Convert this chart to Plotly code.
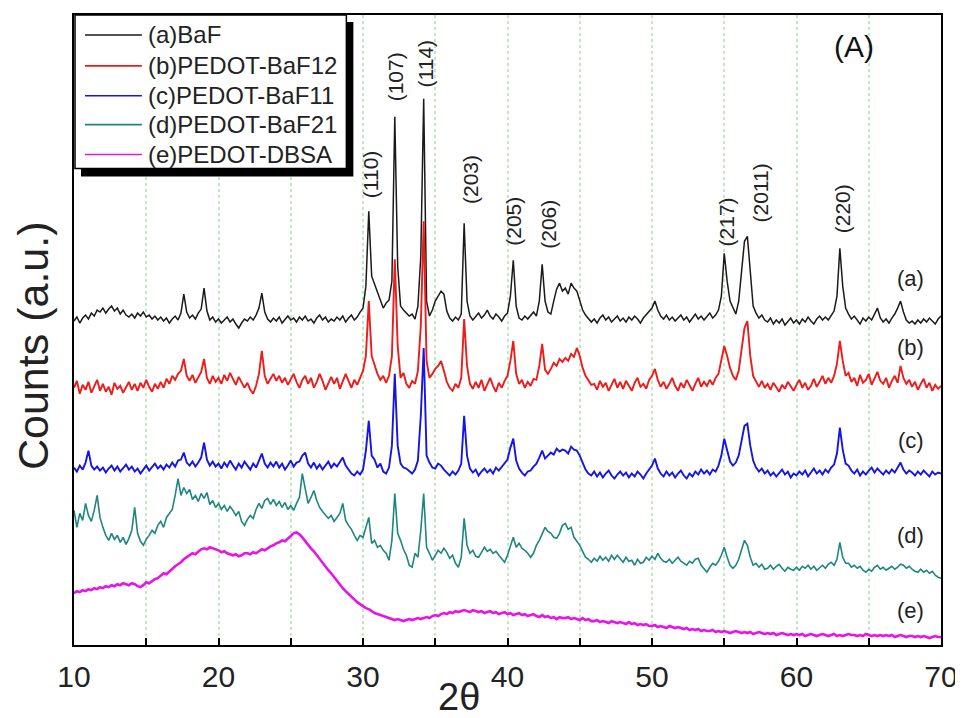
import plotly.graph_objects as go

# 2-theta sampling (degrees)
two_theta = [round(10 + 0.2 * i, 1) for i in range(301)]

series_names = ["(a)BaF", "(b)PEDOT-BaF12", "(c)PEDOT-BaF11", "(d)PEDOT-BaF21", "(e)PEDOT-DBSA"]
series_colors = ["#1a1a1a", "#ee1b1b", "#1414e6", "#1f8580", "#e614e6"]
series_widths = [1.5, 1.9, 1.9, 1.6, 2.6]

counts_a = [
    325, 329, 323, 328, 331, 327, 333, 330, 336, 334,
    338, 333, 337, 340, 335, 338, 332, 336, 331, 329,
    332, 328, 333, 330, 334, 329, 331, 327, 330, 326,
    329, 325, 328, 323, 327, 330, 326, 333, 352, 334,
    328, 331, 327, 333, 337, 358, 335, 326, 329, 324,
    327, 323, 326, 329, 324, 327, 322, 318, 323, 327,
    325, 329, 326, 331, 338, 353, 334, 327, 324, 328,
    325, 329, 323, 327, 330, 326, 328, 324, 329, 326,
    330, 325, 327, 323, 328, 331, 326, 329, 324, 327,
    325, 329, 326, 330, 324, 328, 331, 326, 329, 334,
    338, 360, 435, 370, 362, 352, 345, 338, 343, 346,
    365, 530, 380, 340, 336, 333, 330, 332, 327, 340,
    390, 548, 345, 330, 336, 345, 350, 355, 352, 335,
    328, 325, 329, 326, 332, 423, 345, 330, 326, 329,
    333, 328, 331, 336, 330, 327, 332, 329, 325, 330,
    333, 350, 386, 340, 328, 326, 330, 327, 331, 334,
    330, 345, 382, 345, 334, 332, 345, 357, 363, 355,
    358, 352, 363, 358, 355, 345, 336, 331, 328, 324,
    327, 323, 328, 331, 326, 329, 324, 327, 330, 325,
    328, 324, 329, 326, 330, 327, 323, 328, 331, 335,
    338, 345, 336, 330, 327, 331, 326, 329, 325, 328,
    331, 326, 329, 324, 328, 332, 327, 330, 326, 329,
    333, 328, 331, 336, 350, 393, 365, 345, 338, 332,
    345, 375, 405, 410, 370, 340, 333, 328, 331, 326,
    324, 328, 322, 326, 323, 327, 321, 325, 328, 323,
    326, 322, 327, 324, 329, 325, 322, 327, 330, 326,
    329, 326, 331, 335, 350, 398, 360, 338, 332, 327,
    330, 326, 322, 328, 325, 329, 326, 332, 338, 328,
    324, 327, 323, 328, 332, 338, 345, 334, 326, 323,
    325, 322, 326, 323, 327, 324, 328, 325, 322, 327,
    330,
]

counts_b = [
    258, 265, 252, 261, 256, 264, 253, 260, 266, 255,
    262, 254, 259, 251, 263, 257, 260, 253, 258, 264,
    256, 262, 255, 263, 258, 266, 259, 254, 262, 257,
    264, 258, 267, 262, 270, 266, 272, 275, 287, 270,
    265, 271, 263, 269, 274, 287, 268, 262, 270, 264,
    268, 262, 271, 265, 273, 267, 261, 269, 264, 258,
    263, 256, 252, 260, 272, 295, 270, 262, 267, 272,
    265, 270, 263, 268, 261, 266, 272, 264, 258, 266,
    270, 262, 268, 258, 264, 272, 265, 256, 263, 269,
    262, 268, 257, 264, 272, 265, 258, 266, 261, 268,
    275, 290, 345, 290, 280, 272, 266, 270, 263, 270,
    290, 387, 300, 268, 273, 262, 258, 265, 262, 275,
    320, 425, 285, 268, 272, 277, 280, 285, 275, 264,
    258, 255, 262, 258, 268, 327, 280, 262, 257, 264,
    258, 266, 255, 262, 268, 260, 254, 263, 258, 265,
    270, 285, 305, 272, 262, 266, 258, 264, 260, 267,
    266, 280, 302, 276, 272, 277, 283, 280, 287, 284,
    288, 285, 292, 289, 298, 290, 278, 270, 265, 261,
    262, 256, 265, 259, 263, 255, 261, 267, 258, 264,
    257, 265, 260, 255, 263, 268, 259, 262, 257, 266,
    270, 277, 266, 259, 264, 257, 262, 268, 260, 255,
    263, 258, 266, 261, 255, 262, 268, 259, 264, 260,
    266, 261, 268, 272, 285, 300, 290, 278, 270, 266,
    275, 295, 318, 325, 290, 270, 264, 259, 265, 258,
    262, 256, 263, 258, 254, 261, 257, 264, 259, 255,
    261, 266, 258, 263, 256, 260, 267, 259, 264, 270,
    262, 268, 263, 270, 282, 305, 285, 270, 273, 264,
    268, 260, 271, 263, 266, 272, 261, 267, 274, 265,
    262, 268, 258, 265, 270, 263, 280, 268, 262, 266,
    259, 264, 256, 262, 267, 258, 263, 255, 261, 257,
    260,
]

counts_c = [
    178, 174, 180, 176, 183, 195, 180, 176, 179, 175,
    178, 173, 177, 180, 175, 179, 174, 178, 181, 176,
    179, 174, 177, 172, 176, 180, 175, 178, 182, 177,
    180, 176, 181, 178, 183, 179, 185, 186, 193, 183,
    180, 184, 179, 183, 188, 203, 186, 180, 184, 179,
    182, 177, 183, 179, 185, 180, 176, 182, 178, 184,
    180, 176, 182, 178, 185, 192, 182, 178, 183, 179,
    184, 178, 182, 176, 180, 185, 179, 183, 184, 190,
    193, 182, 178, 183, 177, 181, 176, 180, 184, 178,
    182, 179, 183, 188, 180, 176, 172, 170, 174, 171,
    176, 195, 225, 190, 186, 178, 182, 174, 172, 178,
    200, 272, 200, 182, 178, 177, 174, 172, 176, 185,
    230, 298, 190, 183, 178, 177, 182, 180, 176, 173,
    170, 174, 171, 175, 182, 230, 190, 177, 173, 176,
    170, 174, 177, 173, 176, 172, 178, 175, 179, 183,
    186, 198, 207, 185, 177, 173, 170, 174, 175, 179,
    182, 188, 195, 187, 190, 193, 191, 197, 194, 196,
    195, 192, 199, 196, 195, 190, 183, 176, 172, 170,
    174, 169, 173, 168, 172, 175, 170, 167, 171, 174,
    170, 173, 168, 172, 169, 174, 171, 167, 172, 176,
    180, 187, 177, 172, 169, 174, 170, 173, 168, 172,
    175, 170, 167, 172, 169, 174, 171, 176, 172, 175,
    171, 176, 174, 180, 190, 207, 195, 184, 180, 183,
    190, 205, 220, 222, 200, 185, 178, 174, 177, 172,
    175, 170, 173, 169, 172, 176, 171, 174, 168, 172,
    170, 174, 171, 175, 169, 173, 177, 172, 175, 171,
    176, 173, 178, 181, 192, 218, 196, 182, 180, 175,
    172, 176, 170, 174, 171, 175, 178, 173, 177, 174,
    171, 175, 172, 176, 173, 178, 183, 176, 172, 175,
    173, 170, 174, 171, 175, 172, 169, 174, 171, 173,
    172,
]

counts_d = [
    135, 118, 132, 125, 142, 130, 124, 135, 150, 128,
    118, 110, 105, 112, 106, 110, 103, 108, 101, 107,
    115, 138, 112, 104, 100, 106, 110, 115, 112, 120,
    124, 118, 128, 132, 136, 150, 167, 150, 158, 152,
    156, 146, 150, 144, 152, 147, 153, 141, 145, 138,
    142, 136, 140, 134, 139, 135, 130, 134, 124, 120,
    126, 130, 127, 136, 142, 137, 145, 147, 141, 146,
    140, 144, 138, 143, 136, 140, 135, 142, 148, 172,
    155, 142, 148, 155, 145, 138, 134, 130, 127, 130,
    124, 128, 132, 142, 125, 120, 116, 110, 105, 110,
    108, 118, 128, 102, 105, 98, 100, 95, 92, 85,
    105, 152, 112, 105, 96, 90, 80, 78, 92, 88,
    115, 152, 98, 92, 85, 90, 95, 92, 97, 93,
    87, 90, 82, 78, 88, 127, 100, 92, 95, 89,
    88, 93, 98, 94, 96, 92, 94, 90, 87, 83,
    90, 100, 108, 98, 102, 97, 95, 92, 88, 92,
    100, 105, 112, 118, 114, 112, 108, 107, 112, 120,
    122, 116, 118, 108, 104, 100, 94, 88, 86, 83,
    87, 84, 89, 85, 88, 84, 90, 86, 90, 87,
    83, 88, 84, 85, 80, 86, 82, 83, 88, 85,
    89, 86, 92, 87, 84, 83, 86, 82, 85, 88,
    84, 82, 80, 84, 82, 86, 87, 80, 77, 73,
    78, 82, 80, 84, 90, 98, 88, 80, 77, 80,
    86, 95, 105, 100, 88, 80, 82, 78, 81, 76,
    77, 80, 76, 79, 81, 77, 74, 78, 76, 75,
    78, 75, 79, 77, 80, 76, 79, 75, 78, 80,
    77, 81, 83, 80, 86, 103, 88, 82, 82, 78,
    80, 77, 79, 75, 73, 76, 74, 78, 80, 76,
    78, 75, 77, 79, 76, 78, 81, 80, 77, 79,
    76, 74, 73, 76, 73, 75, 72, 74, 70, 68,
    67,
]

counts_e = [
    52, 54, 53, 55, 54, 56, 55, 57, 56, 58,
    57, 59, 58, 60, 59, 61, 60, 62, 61, 60,
    62, 61, 59, 58, 60, 63, 62, 64, 66, 67,
    70, 72, 71, 74, 76, 79, 81, 83, 86, 88,
    90, 92, 91, 94, 96, 97, 96, 98, 97, 96,
    95, 93, 94, 92, 91, 90, 91, 89, 90, 92,
    92, 91, 93, 92, 94, 96, 95, 97, 99, 100,
    102, 103, 105, 104, 107, 110, 112, 113, 111, 108,
    104, 100, 97, 94, 90, 86, 82, 78, 75, 72,
    68, 64, 61, 57, 54, 51, 48, 45, 43, 41,
    39, 37, 36, 34, 32, 31, 30, 29, 28, 27,
    26, 25, 26, 25, 24, 25, 26, 25, 26, 27,
    26, 27, 28, 27, 29, 30, 29, 31, 32, 31,
    33, 32, 34, 33, 34, 35, 34, 33, 35, 34,
    33, 34, 32, 33, 34, 32, 33, 31, 32, 33,
    31, 32, 30, 31, 32, 30, 31, 29, 30, 31,
    29, 28, 30, 28, 29, 27, 28, 26, 28, 27,
    27, 28, 26, 27, 26, 25, 27, 25, 26, 24,
    24, 25, 23, 24, 23, 22, 24, 23, 22, 23,
    22, 21, 23, 21, 22, 20, 21, 20, 21, 19,
    19, 20, 18, 19, 18, 17, 19, 18, 17, 18,
    17, 16, 17, 15, 16, 15, 16, 14, 15, 14,
    14, 15, 13, 14, 13, 14, 13, 12, 13, 14,
    13, 12, 13, 12, 13, 11, 12, 13, 12, 11,
    12, 11, 12, 10, 11, 12, 11, 10, 11, 10,
    11, 10, 11, 9, 10, 11, 10, 9, 10, 11,
    10, 9, 10, 11, 9, 10, 9, 10, 11, 10,
    10, 9, 10, 9, 11, 10, 9, 10, 9, 10,
    9, 10, 9, 10, 8, 9, 10, 9, 8, 9,
    9, 8, 9, 8, 9, 8, 7, 8, 9, 8,
    8,
]

# Peak (hkl) labels and their positions (2theta, counts)
peak_labels = ["(110)", "(107)", "(114)", "(203)", "(205)", "(206)", "(217)", "(2011)", "(220)"]
peak_label_x = [30.53, 32.25, 34.33, 37.44, 40.41, 42.83, 55.13, 57.48, 63.21]
peak_label_y = [472, 570, 583, 467, 425, 422, 424, 453, 438]

curve_labels = ["(a)", "(b)", "(c)", "(d)", "(e)"]
curve_label_x = [67.9, 67.9, 67.9, 67.9, 67.9]
curve_label_y = [368, 298, 205, 110, 35]

FONT = "Liberation Sans, Arial, sans-serif"
GRID = "rgba(140,215,140,0.55)"

# The page body adds an 8 px margin at the top-left, so the figure is laid out
# 8 px smaller and shifted to land where the reference puts it.
BODY = 8
FIG_W, FIG_H = 963 - BODY, 718 - BODY
# plot-area geometry in page pixels
PL, PR, PT, PB = 74, 943, 13, 645
W, H = float(PR - PL), float(PB - PT)


def px(x):
    return (x - PL) / W


def py(y):
    return (PB - y) / H


fig = go.Figure()
for name, ys, col, lw in zip(series_names, [counts_a, counts_b, counts_c, counts_d, counts_e],
                             series_colors, series_widths):
    fig.add_trace(go.Scatter(x=two_theta, y=ys, mode="lines", name=name, showlegend=False,
                             line=dict(color=col, width=lw)))

annotations = []
for t, x, y in zip(peak_labels, peak_label_x, peak_label_y):
    annotations.append(dict(text=t, x=x, y=y, xref="x", yref="y", showarrow=False,
                            textangle=-90, font=dict(family=FONT, size=21, color="#222")))
for t, x, y in zip(curve_labels, curve_label_x, curve_label_y):
    annotations.append(dict(text=t, x=x, y=y, xref="x", yref="y", showarrow=False,
                            font=dict(family=FONT, size=22, color="#222")))
annotations.append(dict(text="(A)", x=64.0, y=600, xref="x", yref="y", showarrow=False,
                        font=dict(family=FONT, size=30, color="#111")))

# axis titles
annotations.append(dict(text="2θ", x=px(460), y=py(697), xref="paper", yref="paper",
                        showarrow=False, xanchor="center", yanchor="middle",
                        font=dict(family=FONT, size=38, color="#222")))
annotations.append(dict(text="Counts (a.u.)", x=px(33), y=py(345), xref="paper", yref="paper",
                        showarrow=False, xanchor="center", yanchor="middle", textangle=-90,
                        font=dict(family=FONT, size=43, color="#222")))

# legend box with drop shadow
shapes = [
    dict(type="rect", xref="paper", yref="paper", x0=px(81), x1=px(354), y0=py(175), y1=py(20),
         fillcolor="black", line=dict(width=0), layer="above"),
    dict(type="rect", xref="paper", yref="paper", x0=px(75), x1=px(347), y0=py(167), y1=py(13),
         fillcolor="white", line=dict(color="black", width=1.5), layer="above"),
]
legend_rows = [33, 64, 94, 123, 153]
for name, col, ry in zip(series_names, series_colors, legend_rows):
    shapes.append(dict(type="line", xref="paper", yref="paper", x0=px(85), x1=px(142),
                       y0=py(ry), y1=py(ry), line=dict(color=col, width=1.6), layer="above"))
    annotations.append(dict(text=name, x=px(146), y=py(ry), xref="paper", yref="paper",
                            showarrow=False, xanchor="left", yanchor="middle",
                            font=dict(family=FONT, size=24, color="#222")))

fig.update_layout(
    width=FIG_W, height=FIG_H,
    margin=dict(l=PL - BODY, r=FIG_W - (PR - BODY), t=PT - BODY, b=FIG_H - (PB - BODY)),
    paper_bgcolor="white", plot_bgcolor="white",
    font=dict(family=FONT, color="#222"),
    showlegend=False,
    xaxis=dict(range=[10, 70], tick0=10, dtick=10, ticks="inside", ticklen=7, tickwidth=2,
               tickcolor="black", showline=True, linewidth=2, linecolor="black", mirror=True,
               showgrid=True, gridcolor=GRID, griddash="dot", gridwidth=1.5, zeroline=False,
               tickfont=dict(family=FONT, size=30, color="#222"), ticklabelstandoff=4,
               minor=dict(tick0=10, dtick=5, ticks="inside", ticklen=7, tickwidth=2, tickcolor="black",
                          showgrid=True, gridcolor=GRID, griddash="dot", gridwidth=1.5)),
    yaxis=dict(range=[0, 632], showticklabels=False, ticks="", showgrid=False, zeroline=False,
               showline=True, linewidth=2, linecolor="black", mirror=True),
    annotations=annotations,
    shapes=shapes,
)

fig.write_html("out.html")
